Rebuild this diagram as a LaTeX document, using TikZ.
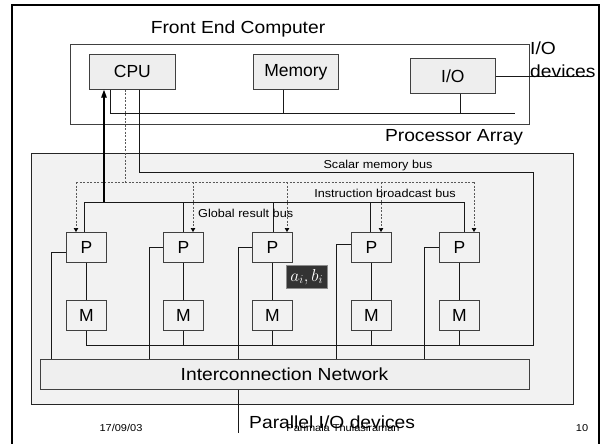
\documentclass[tikz,border=0pt]{standalone}
\usepackage{fontspec}
\setmainfont{Liberation Sans}
\usetikzlibrary{arrows.meta}
\definecolor{pagray}{HTML}{F2F2F2}
\definecolor{boxgray}{HTML}{EEEEEE}
\definecolor{darkbox}{HTML}{333333}
\definecolor{edge}{HTML}{404040}
\begin{document}
\begin{tikzpicture}[x=1pt,y=-1pt,
  big/.style={font=\fontsize{17.5}{20}\selectfont, xscale=1.1, inner sep=0},
  small/.style={font=\fontsize{11.5}{13}\selectfont, xscale=1.1, inner sep=0},
  foot/.style={font=\fontsize{10}{12}\selectfont, xscale=1.1, inner sep=0},
  unit/.style={draw=edge, line width=0.7pt, anchor=north west, inner sep=0,
    minimum width=40pt, minimum height=30pt, font=\fontsize{17.5}{20}\selectfont},
  fbox/.style={draw=edge, fill=boxgray, line width=0.7pt, anchor=north west, inner sep=0,
    minimum width=86pt, minimum height=35pt, font=\fontsize{17.5}{20}\selectfont},
  wire/.style={line width=0.7pt, draw=black!90},
  dwire/.style={line width=0.6pt, draw=black!65, dash pattern=on 2pt off 1.5pt},
  dtip/.style={-{Triangle[length=4pt,width=4.5pt,black]}},
]
\useasboundingbox (0,0) rectangle (602,444);

% page frame
\draw[line width=1.2pt] (12,444) -- (12,5) -- (599,5) -- (599,444);
\draw[line width=2pt] (12,5) -- (12,444);

% front end computer
\node[draw=edge, fill=white, line width=0.8pt, anchor=north west, inner sep=0,
  minimum width=459pt, minimum height=80pt] (fe) at (70,44) {};
\node[big] (fetitle) at (238,29) {Front End Computer};
\node[fbox] (cpu) at (89,54) {CPU};
\node[fbox, minimum width=85pt] (mem) at (253,54) {Memory};
\node[fbox, minimum width=85pt] (io) at (410,58) {I/O};

\coordinate (busL) at (110,113);
\coordinate (busR) at (515,113);
\coordinate (memdrop) at (283,113);
\coordinate (iodrop) at (460,113);
\draw[wire] (cpu.south -| busL) -- (busL) -- (busR);
\draw[wire] (mem.south -| memdrop) -- (memdrop);
\draw[wire] (io.south -| iodrop) -- (iodrop);

\coordinate (iodev) at (592,0);
\draw[wire] (io.east) -- (io.east -| iodev);
\node[big, anchor=west] (iolbl) at (530,48) {I/O};
\node[big, anchor=west] (devlbl) at (530,71) {devices};

% processor array
\node[big] (patitle) at (454,137) {Processor Array};
\node[draw=black!85, fill=pagray, line width=0.8pt, anchor=north west, inner sep=0,
  minimum width=542pt, minimum height=251pt] (pa) at (31,153) {};

% network
\node[draw=edge, fill=boxgray!70!pagray, line width=0.7pt, anchor=north west, inner sep=0,
  minimum width=489pt, minimum height=30pt] (net) at (40,359) {};
\node[big] (nettxt) at (284.5,374) {Interconnection Network};

% P and M units
\foreach \i/\x in {1/66,2/163,3/252,4/351,5/439} {
  \node[unit] (P\i) at (\x,232) {P};
  \node[unit] (M\i) at (\x,300) {M};
  \draw[wire] (P\i) -- (M\i);
}

% scalar memory bus
\coordinate (smA) at (139,172);
\coordinate (smB) at (533,172);
\coordinate (smC) at (533,345);
\draw[wire] (cpu.south -| smA) -- (smA) -- (smB) -- (smC) -- (M1.south |- smC);
\foreach \i in {1,...,5} { \draw[wire] (M\i.south) -- (M\i.south |- smC); }
\node[small] (smlbl) at (378,166) {Scalar memory bus};

% instruction broadcast bus (dashed)
\coordinate (ibC) at (125,182);
\foreach \i/\x in {1/76,2/193,3/287,4/381,5/474} { \coordinate (ib\i) at (\x,182); }
\draw[dwire] (cpu.south -| ibC) -- (ibC);
\draw[dwire] (ib1) -- (ib5);
\foreach \i in {1,...,5} { \draw[dwire, dtip] (ib\i) -- (P\i.north -| ib\i); }
\node[small] (iblbl) at (385,193) {Instruction broadcast bus};

% global result bus
\foreach \i/\x in {1/84,2/183,3/273,4/370,5/464} { \coordinate (gr\i) at (\x,202); }
\coordinate (grA) at (104,202);
\draw[wire] (gr1) -- (gr5);
\foreach \i in {1,...,5} { \draw[wire] (gr\i) -- (P\i.north -| gr\i); }
\draw[line width=1.3pt, -{Triangle[length=8pt,width=5.5pt]}] (grA) -- (cpu.south -| grA);
\node[small, anchor=west] (grlbl) at (198,213) {Global result bus};

% P to network wires
\foreach \i/\x/\y in {1/51/252,2/149/247,3/238/247,4/336/244,5/424/247} {
  \coordinate (lw\i) at (\x,\y);
  \draw[wire] (P\i.west |- lw\i) -- (lw\i) -- (lw\i |- net.north);
}

% a_i, b_i
\node[fill=darkbox, draw=black!45, line width=0.6pt, anchor=north west, inner sep=0,
  minimum width=41pt, minimum height=23pt, text=white,
  font=\fontsize{17}{19}\selectfont] (ab) at (286,265) {$a_i,b_i$};

% parallel I/O
\coordinate (pio) at (238,433);
\draw[wire] (net.south -| pio) -- (pio);

% footer
\node[foot] (date) at (121,428) {17/09/03};
\node[foot] (author) at (343,428) {Parimala Thulasiraman};
\node[foot] (page) at (582,428) {10};
\node[big, anchor=west] (piolbl) at (249,422) {Parallel I/O devices};
\end{tikzpicture}
\end{document}
